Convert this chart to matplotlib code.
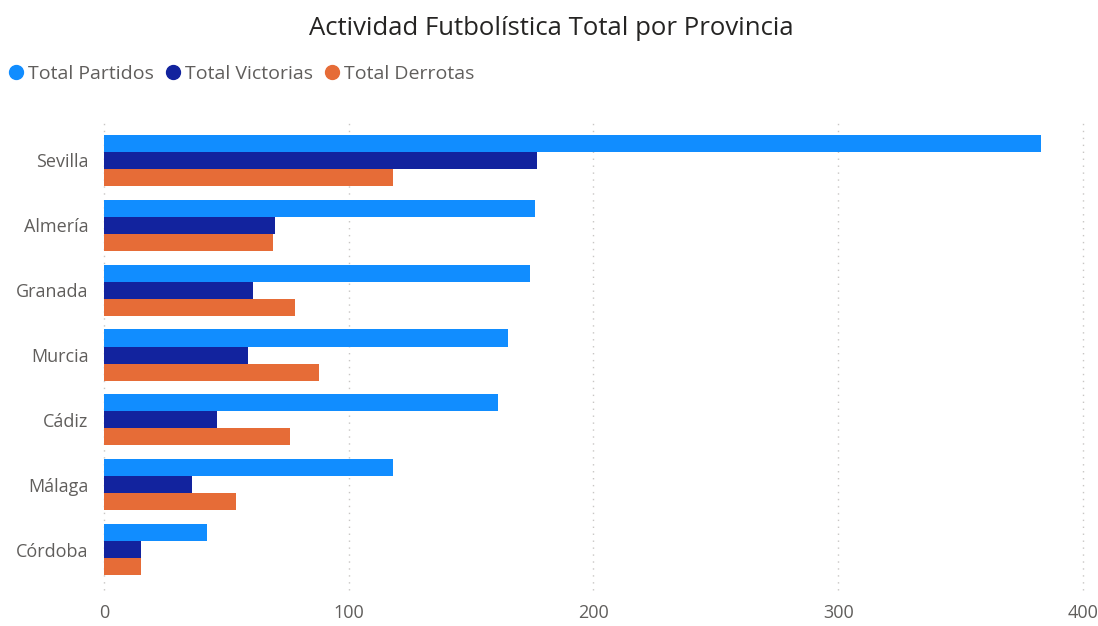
import numpy as np
import matplotlib.pyplot as plt
from matplotlib.lines import Line2D

provincias = ["Sevilla", "Almería", "Granada", "Murcia", "Cádiz", "Málaga", "Córdoba"]
total_partidos = [383, 176, 174, 165, 161, 118, 42]
total_victorias = [177, 70, 61, 59, 46, 36, 15]
total_derrotas = [118, 69, 78, 88, 76, 54, 15]
x_ticks = [0, 100, 200, 300, 400]

series = [
    ("Total Partidos", total_partidos, "#118DFF"),
    ("Total Victorias", total_victorias, "#12239E"),
    ("Total Derrotas", total_derrotas, "#E66C37"),
]

plt.rcParams["font.family"] = ["Open Sans", "DejaVu Sans"]

fig = plt.figure(figsize=(10.98, 6.26), dpi=100)
ax = fig.add_axes([0.0947, 0.0575, 0.8916, 0.7508])

y = np.arange(len(provincias))
bar_h = 0.262
for i, (name, vals, color) in enumerate(series):
    ax.barh(y + (i - 1) * bar_h, vals, height=bar_h, color=color, label=name, zorder=2)

ax.set_ylim(len(provincias) - 1 + 0.62, -0.62)
ax.set_xlim(0, 400)
ax.set_xticks(x_ticks)
ax.set_yticks(y)
ax.set_yticklabels(provincias)
ax.tick_params(axis="both", length=0, labelsize=13, colors="#605E5C")
ax.tick_params(axis="y", pad=11)
ax.tick_params(axis="x", pad=10)
ax.grid(axis="x", linestyle=(0, (1, 4)), color="#C8C6C4", linewidth=1, zorder=0)
for gl in ax.get_xgridlines():
    gl.set_clip_on(False)
for s in ax.spines.values():
    s.set_visible(False)

fig.text(0.502, 0.955, "Actividad Futbolística Total por Provincia", ha="center", va="center",
         fontsize=18.5, color="#252423")

handles = [Line2D([], [], marker="o", linestyle="", markersize=10, color=c) for _, _, c in series]
fig.legend(handles, [n for n, _, _ in series], loc="center left", bbox_to_anchor=(-0.002, 0.882),
           frameon=False, fontsize=14, handlelength=0.9, handletextpad=0.15, columnspacing=0.55,
           ncol=3, labelcolor="#605E5C", borderaxespad=0.3, borderpad=0.2)

fig.savefig("out.png", dpi=100)
